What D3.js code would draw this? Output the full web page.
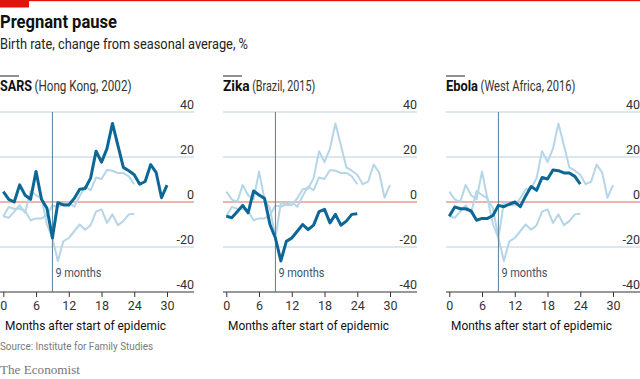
<!DOCTYPE html>
<html><head><meta charset="utf-8">
<script src="https://cdn.jsdelivr.net/npm/d3@7"></script>
<style>
html,body{margin:0;padding:0;background:#fff;}
svg{display:block;font-family:Roboto, "Noto Sans", sans-serif;}
</style></head>
<body>
<svg id="chart" width="640" height="379"></svg>
<script>
const months = d3.range(0, 31);
const xTicks = [0, 6, 12, 18, 24, 30];
const yTicks = [40, 20, 0, -20, -40];
const panelNames = ["SARS", "Zika", "Ebola"];
const panelPlaces = ["(Hong Kong, 2002)", "(Brazil, 2015)", "(West Africa, 2016)"];
const sars = [4.6,1.2,0,7.6,3,1.2,13.6,1.2,-2.8,-16,-0.3,-1.3,-1.3,1.6,5.7,6,10.6,22.6,17.7,23.7,34.9,25.2,15.4,13.9,12.1,7.9,9.1,16.6,13.2,1.9,7.5];
const zika = [-6.3,-7,-4.3,-1.5,-4.8,4.9,3.1,1.6,-10,-16,-26.2,-17.5,-16,-13,-10,-12.3,-10.3,-4.3,-3.3,-9.3,-5.5,-10.3,-8.5,-5.5,-5.2];
const ebola = [-6.3,-2.2,-3,-3,-4,-8.1,-7.3,-7.3,-6,-1.5,-2.1,-1,0,-2.1,2.7,6.9,5.2,10.9,10.2,14.2,13.9,12.9,12.9,11.4,7.9];
const markerMonth = 9;

const series = [sars, zika, ebola];
const svg = d3.select("#chart");

const DARK = "#0d6796", LIGHT = "#b5d5e8", GRID = "#b9d0df", RED = "#e3120b";
const nameWidths = [32, 26.7, 32];
const placeWidths = [97, 63, 95];

// top red line and tag
svg.append("rect").attr("x",0).attr("y",0).attr("width",640).attr("height",1.2).attr("fill",RED);
svg.append("rect").attr("x",0).attr("y",0).attr("width",29).attr("height",7.5).attr("fill",RED);

svg.append("text").attr("x",0).attr("y",28).attr("font-size",18).attr("font-weight",700)
  .attr("fill","#111").attr("textLength",117).attr("lengthAdjust","spacingAndGlyphs").text("Pregnant pause");
svg.append("text").attr("x",0).attr("y",48.5).attr("font-size",14).attr("fill","#222")
  .attr("textLength",248).attr("lengthAdjust","spacingAndGlyphs").text("Birth rate, change from seasonal average, %");

const panelStarts = [0, 223, 446];
const W = 194;
const y = d3.scaleLinear().domain([-40, 40]).range([292, 112]);

panelStarts.forEach((px, i) => {
  const g = svg.append("g");
  const x = d3.scaleLinear().domain([0, 30]).range([px + 3.3, px + 167]);

  // panel title
  g.append("rect").attr("x",px).attr("y",75.5).attr("width",19).attr("height",1).attr("fill","#222");
  g.append("text").attr("x",px).attr("y",91).attr("font-size",14.5).attr("font-weight",700).attr("fill","#111")
    .attr("textLength",nameWidths[i]).attr("lengthAdjust","spacingAndGlyphs").text(panelNames[i]);
  g.append("text").attr("x",px + nameWidths[i] + 2.5).attr("y",91).attr("font-size",14).attr("fill","#333")
    .attr("textLength",placeWidths[i]).attr("lengthAdjust","spacingAndGlyphs").text(panelPlaces[i]);

  // gridlines
  yTicks.forEach(v => {
    if (v === -40) return;
    g.append("line").attr("x1",px).attr("x2",px+W).attr("y1",y(v)).attr("y2",y(v))
      .attr("stroke", v === 0 ? "#e06a5f" : GRID).attr("stroke-width", 1.2);
  });
  // y labels
  yTicks.forEach(v => {
    g.append("text").attr("x",px+W).attr("y",y(v)-3).attr("text-anchor","end")
      .attr("font-size",12.5).attr("fill","#333").text(v);
  });

  // x axis
  const axis = g.append("g").attr("transform",`translate(0,${y(-40)})`)
    .call(d3.axisBottom(x).tickValues(xTicks).tickSize(5).tickPadding(4).tickSizeOuter(0));
  axis.select(".domain").remove();
  axis.selectAll(".tick line").attr("stroke","#333");
  axis.selectAll(".tick text").attr("font-size",12.5).attr("fill","#333").attr("font-family","Roboto, sans-serif");
  g.append("line").attr("x1",px).attr("x2",px+W).attr("y1",y(-40)).attr("y2",y(-40))
    .attr("stroke","#333").attr("stroke-width",1);

  g.append("text").attr("x",px+5).attr("y",330).attr("font-size",13.5).attr("fill","#111")
    .attr("textLength",161).attr("lengthAdjust","spacingAndGlyphs").text("Months after start of epidemic");

  const line = d3.line().x((d, j) => x(months[j])).y(d => y(d));

  // other series, light
  series.forEach((s, k) => {
    if (k === i) return;
    g.append("path").datum(s).attr("d", line).attr("fill","none")
      .attr("stroke",LIGHT).attr("stroke-width",2).attr("stroke-linejoin","round");
  });

  // 9 months marker
  g.append("line").attr("x1",x(markerMonth)).attr("x2",x(markerMonth)).attr("y1",y(40)).attr("y2",y(-40))
    .attr("stroke","#5b7e98").attr("stroke-width",1);
  g.append("text").attr("x",x(markerMonth)+3).attr("y",277).attr("font-size",12.5).attr("fill","#3c5568")
    .attr("textLength",46).attr("lengthAdjust","spacingAndGlyphs")
    .text(markerMonth + " months");

  // main series
  g.append("path").datum(series[i]).attr("d", line).attr("fill","none")
    .attr("stroke",DARK).attr("stroke-width",3).attr("stroke-linejoin","round");
});

svg.append("text").attr("x",0).attr("y",350).attr("font-size",11).attr("fill","#7a7a7a")
  .attr("textLength",153).attr("lengthAdjust","spacingAndGlyphs").text("Source: Institute for Family Studies");
svg.append("text").attr("x",0).attr("y",374).attr("font-size",11.5).attr("fill","#777")
  .attr("font-family","'Liberation Serif', 'DejaVu Serif', serif")
  .attr("textLength",80).attr("lengthAdjust","spacingAndGlyphs").text("The Economist");
</script>
</body></html>
